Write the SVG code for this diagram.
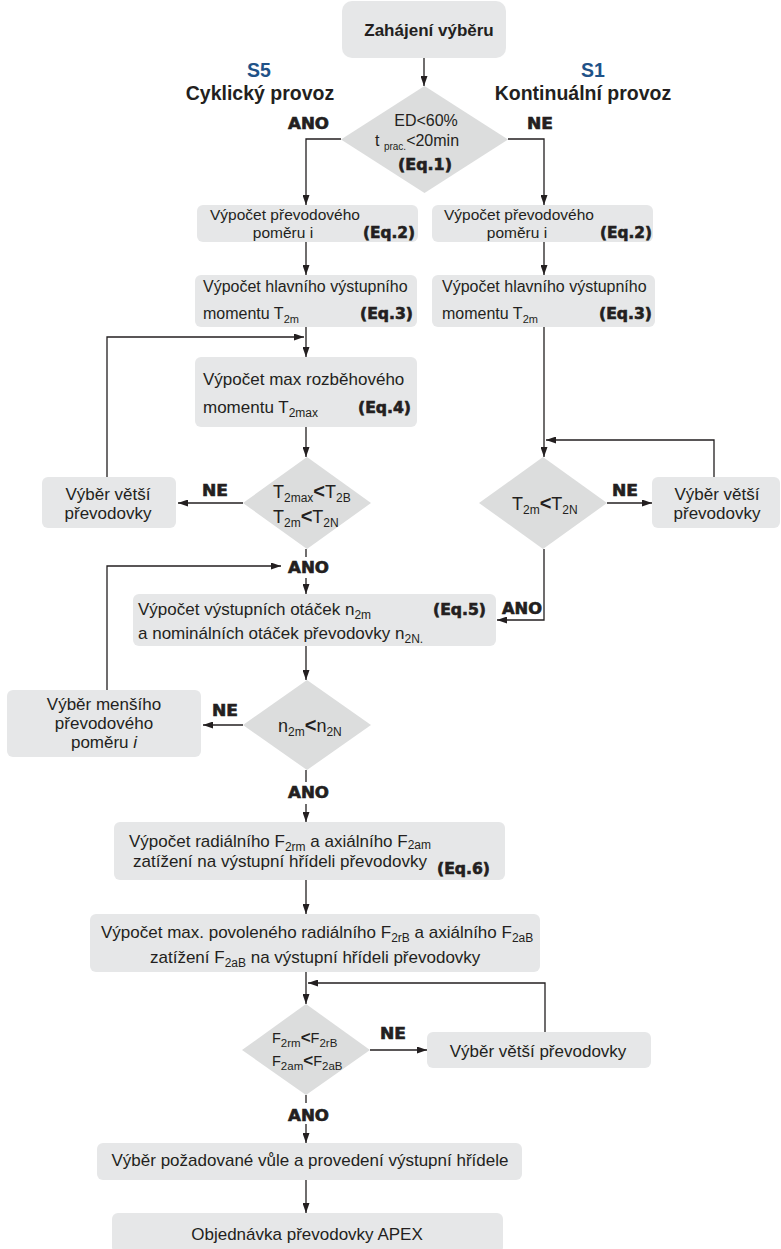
<svg xmlns="http://www.w3.org/2000/svg" width="781" height="1249" viewBox="0 0 781 1249">
<defs>
<style>
.box{fill:#e6e7e8;}
.dia{fill:#dcdddd;}
.t{font-family:"Liberation Sans",Arial,sans-serif;fill:#231f20;}
.b{font-weight:bold;}
.h{font-family:"DejaVu Sans",sans-serif;font-weight:bold;fill:#231f20;font-size:15px;stroke:#231f20;stroke-width:0.6;}
.blue{fill:#1f5288;}
.c{stroke:#231f20;stroke-width:1.3;fill:none;}
.s{font-size:11px;}
.lt{font-weight:bold;font-size:20px;}
</style>
<marker id="ah" viewBox="0 0 10 7" refX="10" refY="3.5" markerWidth="10" markerHeight="7" markerUnits="userSpaceOnUse" orient="auto">
<path d="M0,0 L10,3.5 L0,7 z" fill="#231f20"/>
</marker>
</defs>
<rect width="781" height="1249" fill="#ffffff"/>

<g id="connectors">
<line class="c" x1="424" y1="58" x2="424" y2="86" marker-end="url(#ah)"/>
<polyline class="c" points="341,139 306,139 306,205" marker-end="url(#ah)"/>
<polyline class="c" points="508,139 544,139 544,205" marker-end="url(#ah)"/>
<line class="c" x1="306" y1="242" x2="306" y2="275" marker-end="url(#ah)"/>
<line class="c" x1="544" y1="242" x2="544" y2="275" marker-end="url(#ah)"/>
<line class="c" x1="306" y1="327" x2="306" y2="357" marker-end="url(#ah)"/>
<polyline class="c" points="107,477 107,337 304,337" marker-end="url(#ah)"/>
<line class="c" x1="306" y1="427" x2="306" y2="457" marker-end="url(#ah)"/>
<line class="c" x1="243" y1="503" x2="178" y2="503" marker-end="url(#ah)"/>
<line class="c" x1="544" y1="327" x2="544" y2="457" marker-end="url(#ah)"/>
<line class="c" x1="607" y1="503" x2="652" y2="503" marker-end="url(#ah)"/>
<polyline class="c" points="714,477 714,440 546,440" marker-end="url(#ah)"/>
<polyline class="c" points="544,549 544,620 497,620" marker-end="url(#ah)"/>
<line class="c" x1="306" y1="549" x2="306" y2="557"/>
<line class="c" x1="306" y1="578" x2="306" y2="594" marker-end="url(#ah)"/>
<polyline class="c" points="107,690 107,566 281,566" marker-end="url(#ah)"/>
<line class="c" x1="306" y1="646" x2="306" y2="680" marker-end="url(#ah)"/>
<line class="c" x1="243" y1="725" x2="203" y2="725" marker-end="url(#ah)"/>
<line class="c" x1="306" y1="770" x2="306" y2="782"/>
<line class="c" x1="306" y1="804" x2="306" y2="822" marker-end="url(#ah)"/>
<line class="c" x1="306" y1="880" x2="306" y2="914" marker-end="url(#ah)"/>
<line class="c" x1="306" y1="972" x2="306" y2="1004" marker-end="url(#ah)"/>
<polyline class="c" points="545,1032 545,983 308,983" marker-end="url(#ah)"/>
<line class="c" x1="370" y1="1050" x2="427" y2="1050" marker-end="url(#ah)"/>
<line class="c" x1="306" y1="1095" x2="306" y2="1103"/>
<line class="c" x1="306" y1="1124" x2="306" y2="1143" marker-end="url(#ah)"/>
<line class="c" x1="306" y1="1180" x2="306" y2="1213" marker-end="url(#ah)"/>
</g>

<g id="edge-labels">
<text class="h" x="288" y="129" textLength="41" lengthAdjust="spacingAndGlyphs">ANO</text>
<text class="h" x="527" y="129" textLength="26" lengthAdjust="spacingAndGlyphs">NE</text>
<text class="h" x="202" y="496" textLength="26" lengthAdjust="spacingAndGlyphs">NE</text>
<text class="h" x="612" y="496" textLength="26" lengthAdjust="spacingAndGlyphs">NE</text>
<text class="h" x="288" y="573" textLength="41" lengthAdjust="spacingAndGlyphs">ANO</text>
<text class="h" x="502" y="614" textLength="40" lengthAdjust="spacingAndGlyphs">ANO</text>
<text class="h" x="212" y="716" textLength="26" lengthAdjust="spacingAndGlyphs">NE</text>
<text class="h" x="288" y="798" textLength="41" lengthAdjust="spacingAndGlyphs">ANO</text>
<text class="h" x="380" y="1039" textLength="26" lengthAdjust="spacingAndGlyphs">NE</text>
<text class="h" x="288" y="1121" textLength="41" lengthAdjust="spacingAndGlyphs">ANO</text>
</g>

<g id="mode-labels">
<text class="t b blue" x="259" y="77" font-size="19.5" text-anchor="middle">S5</text>
<text class="t b" x="260" y="100" font-size="19.5" text-anchor="middle">Cyklický provoz</text>
<text class="t b blue" x="593" y="77" font-size="19.5" text-anchor="middle">S1</text>
<text class="t b" x="583" y="100" font-size="19.5" text-anchor="middle">Kontinuální provoz</text>
</g>

<g id="start">
<rect class="box" x="342" y="1" width="164" height="57" rx="10"/>
<text class="t b" x="429" y="36" font-size="17" text-anchor="middle">Zahájení výběru</text>
</g>

<g id="d1">
<polygon class="dia" points="424.5,86 508,139.5 424.5,193 341,139.5"/>
<text class="t" x="426" y="126" font-size="16" text-anchor="middle">ED&lt;60%</text>
<text class="t" x="375" y="146" font-size="16">t <tspan font-size="10" dy="4">prac.</tspan><tspan dy="-4">&lt;20min</tspan></text>
<text class="h" x="398" y="170" textLength="54" lengthAdjust="spacingAndGlyphs">(Eq.1)</text>
</g>

<g id="eq2-left">
<rect class="box" x="197" y="205" width="221" height="37" rx="6"/>
<text class="t" x="285" y="220" font-size="15.5" text-anchor="middle">Výpočet převodového</text>
<text class="t" x="283" y="238" font-size="15.5" text-anchor="middle">poměru i</text>
<text class="h" x="415" y="238" text-anchor="end" textLength="52" lengthAdjust="spacingAndGlyphs">(Eq.2)</text>
</g>

<g id="eq2-right">
<rect class="box" x="432" y="205" width="221" height="37" rx="6"/>
<text class="t" x="519" y="220" font-size="15.5" text-anchor="middle">Výpočet převodového</text>
<text class="t" x="517" y="238" font-size="15.5" text-anchor="middle">poměru i</text>
<text class="h" x="652" y="238" text-anchor="end" textLength="52" lengthAdjust="spacingAndGlyphs">(Eq.2)</text>
</g>

<g id="eq3-left">
<rect class="box" x="195" y="275" width="222" height="52" rx="6"/>
<text class="t" x="203" y="292" font-size="16">Výpočet hlavního výstupního</text>
<text class="t" x="203" y="319" font-size="16">momentu T<tspan class="s" dy="4">2m</tspan></text>
<text class="h" x="413" y="319" text-anchor="end" textLength="53" lengthAdjust="spacingAndGlyphs">(Eq.3)</text>
</g>

<g id="eq3-right">
<rect class="box" x="432" y="275" width="223" height="52" rx="6"/>
<text class="t" x="442" y="292" font-size="16">Výpočet hlavního výstupního</text>
<text class="t" x="442" y="319" font-size="16">momentu T<tspan class="s" dy="4">2m</tspan></text>
<text class="h" x="652" y="319" text-anchor="end" textLength="53" lengthAdjust="spacingAndGlyphs">(Eq.3)</text>
</g>

<g id="eq4">
<rect class="box" x="195" y="357" width="222" height="70" rx="6"/>
<text class="t" x="203" y="385" font-size="17">Výpočet max rozběhového</text>
<text class="t" x="203" y="413" font-size="17">momentu T<tspan font-size="12" dy="4">2max</tspan></text>
<text class="h" x="411" y="413" text-anchor="end" textLength="53" lengthAdjust="spacingAndGlyphs">(Eq.4)</text>
</g>

<g id="d2">
<polygon class="dia" points="307,457 371,503 307,549 243,503"/>
<text class="t" x="273" y="498" font-size="18">T<tspan font-size="12" dy="4">2max</tspan><tspan dy="-4" class="lt">&lt;</tspan>T<tspan font-size="12" dy="4">2B</tspan></text>
<text class="t" x="273" y="523" font-size="18">T<tspan font-size="12" dy="4">2m</tspan><tspan dy="-4" class="lt">&lt;</tspan>T<tspan font-size="12" dy="4">2N</tspan></text>
</g>

<g id="bigger-left">
<rect class="box" x="42" y="477" width="134" height="51" rx="6"/>
<text class="t" x="108" y="500" font-size="17" text-anchor="middle">Výběr větší</text>
<text class="t" x="108" y="519" font-size="17" text-anchor="middle">převodovky</text>
</g>

<g id="d3">
<polygon class="dia" points="543,457 607,503 543,549 479,503"/>
<text class="t" x="512" y="510" font-size="18">T<tspan font-size="12" dy="4">2m</tspan><tspan dy="-4" class="lt">&lt;</tspan>T<tspan font-size="12" dy="4">2N</tspan></text>
</g>

<g id="bigger-right">
<rect class="box" x="652" y="477" width="128" height="51" rx="6"/>
<text class="t" x="717" y="500" font-size="17" text-anchor="middle">Výběr větší</text>
<text class="t" x="717" y="519" font-size="17" text-anchor="middle">převodovky</text>
</g>

<g id="eq5">
<rect class="box" x="133" y="594" width="363" height="52" rx="6"/>
<text class="t" x="138" y="615" font-size="17">Výpočet výstupních otáček n<tspan font-size="12" dy="4">2m</tspan></text>
<text class="t" x="138" y="639" font-size="17">a nominálních otáček převodovky n<tspan font-size="12" dy="4">2N</tspan><tspan font-size="12">.</tspan></text>
<text class="h" x="486" y="615" text-anchor="end" textLength="53" lengthAdjust="spacingAndGlyphs">(Eq.5)</text>
</g>

<g id="d4">
<polygon class="dia" points="307,680 371,725 307,770 243,725"/>
<text class="t" x="278" y="732" font-size="18">n<tspan font-size="12" dy="4">2m</tspan><tspan dy="-4" class="lt">&lt;</tspan>n<tspan font-size="12" dy="4">2N</tspan></text>
</g>

<g id="smaller-ratio">
<rect class="box" x="7" y="690" width="194" height="67" rx="6"/>
<text class="t" x="104" y="710" font-size="17" text-anchor="middle">Výběr menšího</text>
<text class="t" x="104" y="729" font-size="17" text-anchor="middle">převodového</text>
<text class="t" x="104" y="748" font-size="17" text-anchor="middle">poměru <tspan font-style="italic">i</tspan></text>
</g>

<g id="eq6">
<rect class="box" x="114" y="822" width="391" height="58" rx="6"/>
<text class="t" x="129" y="847" font-size="17">Výpočet radiálního F<tspan font-size="12" dy="4">2rm</tspan><tspan dy="-4"> a axiálního F</tspan><tspan font-size="12" dy="2">2am</tspan></text>
<text class="t" x="133" y="867" font-size="17">zatížení na výstupní hřídeli převodovky</text>
<text class="h" x="490" y="874" text-anchor="end" textLength="53" lengthAdjust="spacingAndGlyphs">(Eq.6)</text>
</g>

<g id="allowed-loads">
<rect class="box" x="90" y="914" width="450" height="58" rx="6"/>
<text class="t" x="101" y="938" font-size="17">Výpočet max. povoleného radiálního F<tspan font-size="12" dy="4">2rB</tspan><tspan dy="-4"> a axiálního F</tspan><tspan font-size="12" dy="4">2aB</tspan></text>
<text class="t" x="150" y="963" font-size="17">zatížení F<tspan font-size="12" dy="4">2aB</tspan><tspan dy="-4"> na výstupní hřídeli převodovky</tspan></text>
</g>

<g id="d5">
<polygon class="dia" points="306,1004 370,1050 306,1095 242,1050"/>
<text class="t" x="272" y="1043" font-size="14.5">F<tspan font-size="11.5" dy="4">2rm</tspan><tspan dy="-4" font-weight="bold" font-size="17">&lt;</tspan>F<tspan font-size="11.5" dy="4">2rB</tspan></text>
<text class="t" x="272" y="1066" font-size="14.5">F<tspan font-size="11.5" dy="4">2am</tspan><tspan dy="-4" font-weight="bold" font-size="17">&lt;</tspan>F<tspan font-size="11.5" dy="4">2aB</tspan></text>
</g>

<g id="bigger-bottom">
<rect class="box" x="427" y="1032" width="224" height="36" rx="6"/>
<text class="t" x="538" y="1057" font-size="17" text-anchor="middle">Výběr větší převodovky</text>
</g>

<g id="backlash">
<rect class="box" x="97" y="1143" width="425" height="37" rx="6"/>
<text class="t" x="310" y="1166" font-size="17" text-anchor="middle">Výběr požadované vůle a provedení výstupní hřídele</text>
</g>

<g id="order">
<rect class="box" x="112" y="1213" width="391" height="40" rx="6"/>
<text class="t" x="307" y="1240" font-size="17" text-anchor="middle">Objednávka převodovky APEX</text>
</g>
</svg>
